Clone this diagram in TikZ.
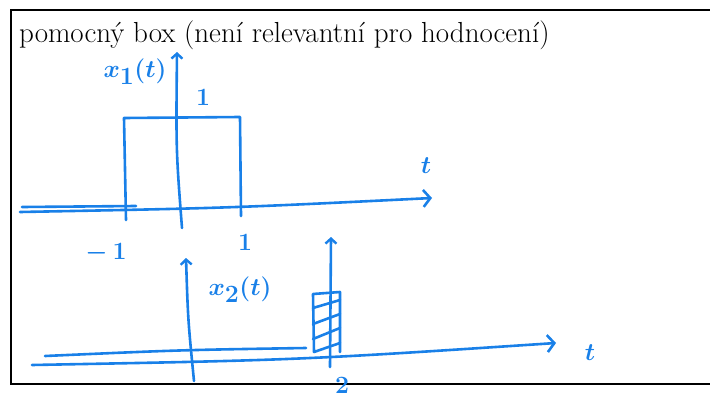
\documentclass[tikz,border=0pt]{standalone}
\usepackage{tikz}
\usetikzlibrary{arrows.meta}

\definecolor{pen}{RGB}{25,128,232}

\begin{document}
\begin{tikzpicture}[x=1pt, y=-1pt,
    pen/.style={line width=2.6pt, draw=pen, line cap=round, line join=round},
    axisarrow/.style={-{Straight Barb[length=7pt,width=17pt,line width=2.6pt]}},
    uparrow/.style={-{Straight Barb[length=5pt,width=11pt,line width=2.4pt]}},
    handtext/.style={text=pen, inner sep=0, font=\fontsize{36}{40}\selectfont\boldmath}]
    \useasboundingbox (0,0) rectangle (710,399);

    % box
    \draw[line width=1.3pt] (712,10) -- (11,10) -- (11,384) -- (712,384);
    \node[anchor=base west, inner sep=0, font=\fontsize{29}{32}\selectfont] (title) at (19,42)
        {pomocný box (není relevantní pro hodnocení)};

    % x1(t): axes
    \coordinate (tA) at (20,212);
    \coordinate (tB) at (432,198);
    \draw[pen] (22,207) -- (136,206);
    \draw[pen, axisarrow] (tA) .. controls (230,208) .. (tB);
    \coordinate (yA) at (182,228);
    \coordinate (yB) at (177,52);
    \draw[pen, uparrow] (yA) .. controls (176,150) .. (yB);

    % x1(t): rectangle
    \draw[pen] (126,220) -- (124,118) -- (240,117) -- (241,216);

    % x1(t): labels
    \node[handtext] (xone) at (135,72) {$x_1(t)$};
    \node[handtext] (one) at (203,97) {$1$};
    \node[handtext] (tone) at (426,166) {$t$};
    \node[handtext] (mone) at (106,253) {$-\,1$};
    \node[handtext] (pone) at (245,242) {$1$};

    % x2(t): axes
    \coordinate (sA) at (32,365);
    \coordinate (sB) at (556,343);
    \draw[pen] (45,356) .. controls (180,350) .. (306,348);
    \draw[pen, axisarrow] (sA) .. controls (300,360) .. (sB);
    \coordinate (zA) at (194,381);
    \coordinate (zB) at (186,258);
    \draw[pen, uparrow] (zA) .. controls (188,320) .. (zB);

    % x2(t): impulse at 2
    \coordinate (dA) at (330,367);
    \coordinate (dB) at (331,237);
    \draw[pen, uparrow] (dA) -- (dB);
    \draw[pen] (314,352) -- (313,294) -- (340,292) -- (340,352);
    \draw[pen] (313,308) -- (340,300);
    \draw[pen] (313,324) -- (340,314);
    \draw[pen] (313,339) -- (340,328);
    \draw[pen] (314,352) -- (340,343);

    % x2(t): labels
    \node[handtext] (xtwo) at (240,290) {$x_2(t)$};
    \node[handtext] (ttwo) at (590,353) {$t$};
    \node[handtext] (two) at (342,385) {$2$};
\end{tikzpicture}
\end{document}
